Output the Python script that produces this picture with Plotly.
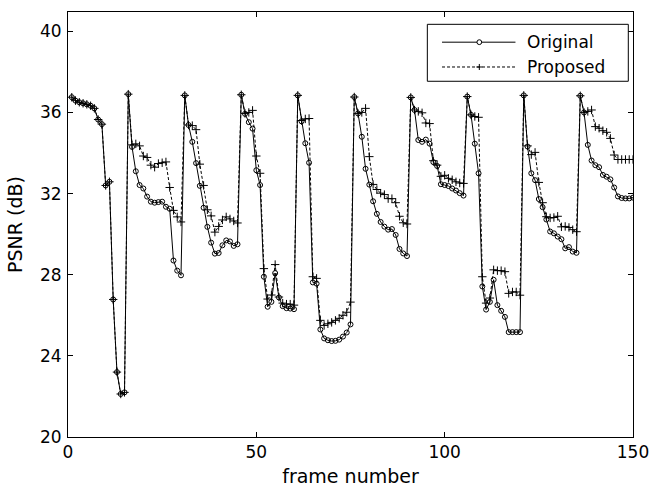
import plotly.graph_objects as go

frames = list(range(1, 151))

original = [
    36.75, 36.58, 36.5, 36.45, 36.4, 36.33, 36.2, 35.65, 35.42, 32.4, 32.58, 26.78, 23.2, 22.12, 22.2, 36.9,
    34.3, 33.1, 32.42, 32.25, 31.85, 31.6, 31.55, 31.58, 31.6, 31.35, 31.25, 28.7, 28.2, 27.97, 36.84,
    35.38, 34.55, 33.5, 32.38, 31.3, 30.36, 29.58, 29.04, 29.07, 29.45, 29.69, 29.64, 29.42, 29.5, 36.87,
    35.93, 35.52, 35.2, 33.15, 32.42, 27.9, 26.42, 26.66, 28.08, 26.88, 26.45, 26.35, 26.33, 26.3, 36.84,
    35.56, 34.48, 33.52, 27.62, 27.56, 25.3, 24.86, 24.77, 24.73, 24.74, 24.8, 24.95, 25.15, 25.55, 36.76,
    35.95, 34.8, 33.22, 32.44, 31.62, 31.0, 30.6, 30.37, 30.22, 30.25, 29.96, 29.27, 29.05, 28.92, 36.74,
    36.12, 34.64, 34.55, 34.66, 34.46, 33.55, 33.36, 32.46, 32.42, 32.37, 32.25, 32.15, 32.02, 31.9, 36.78,
    35.88, 34.46, 33.0, 27.42, 26.28, 26.66, 27.75, 26.5, 26.22, 25.92, 25.17, 25.17, 25.17, 25.17, 36.84,
    34.32, 33.0, 32.66, 31.73, 31.33, 30.72, 30.13, 30.04, 29.88, 29.75, 29.3, 29.36, 29.14, 29.08, 36.82,
    36.0, 34.4, 33.63, 33.4, 33.3, 32.92, 32.83, 32.7, 32.3, 31.86, 31.78, 31.76, 31.76, 31.8,
]

proposed = [
    36.75, 36.58, 36.5, 36.45, 36.4, 36.33, 36.2, 35.65, 35.42, 32.4, 32.58, 26.78, 23.2, 22.12, 22.2, 36.9,
    34.4, 34.45, 34.35, 33.85, 33.78, 33.4, 33.3, 33.48, 33.52, 33.56, 32.3, 31.17, 30.85, 30.6, 36.84,
    35.38, 35.35, 35.15, 33.45, 32.4, 31.2, 30.9, 30.1, 30.38, 30.7, 30.85, 30.75, 30.65, 30.55, 36.87,
    35.95, 36.0, 36.1, 33.85, 33.0, 28.3, 26.8, 27.0, 28.5, 26.9, 26.6, 26.55, 26.55, 26.5, 36.84,
    35.6, 35.68, 35.7, 27.9, 27.82, 25.75, 25.5, 25.58, 25.65, 25.75, 25.85, 26.0, 26.15, 26.65, 36.76,
    35.95, 36.0, 36.2, 33.82, 32.45, 32.2, 32.02, 31.95, 31.75, 31.75, 31.55, 30.88, 30.56, 30.5, 36.74,
    36.12, 36.05, 35.98, 35.48, 35.45, 33.62, 33.4, 32.85, 32.9, 32.75, 32.68, 32.58, 32.52, 32.5, 36.78,
    35.88, 35.8, 35.76, 27.9, 26.6, 26.85, 28.24, 28.2, 28.2, 28.15, 27.08, 27.15, 27.15, 26.99, 36.84,
    34.35, 33.92, 34.03, 32.55, 31.55, 30.86, 30.8, 30.82, 30.88, 30.36, 30.38, 30.33, 30.22, 30.12, 36.82,
    36.0, 36.05, 36.12, 35.3, 35.22, 35.1, 35.02, 34.72, 33.9, 33.68, 33.68, 33.68, 33.68, 33.68,
]

x_ticks = [0, 50, 100, 150]
y_ticks = [20, 24, 28, 32, 36, 40]
series_names = ["Original", "Proposed"]

FONT = "DejaVu Sans, Arial, Helvetica, sans-serif"

fig = go.Figure()
fig.add_trace(go.Scatter(
    x=frames, y=proposed, mode="lines+markers", name=series_names[1],
    line=dict(color="black", width=1, dash="3px,2px"),
    marker=dict(symbol="cross-thin", size=6, line=dict(color="black", width=1)),
    showlegend=False,
))
fig.add_trace(go.Scatter(
    x=frames, y=original, mode="lines+markers", name=series_names[0],
    line=dict(color="black", width=1),
    marker=dict(symbol="circle-open", size=5, color="black", line=dict(color="black", width=1)),
    showlegend=False,
))

axis_common = dict(
    showline=True, linecolor="black", linewidth=1, mirror="ticks",
    ticks="inside", ticklen=5, tickcolor="black", tickwidth=1,
    showgrid=False, zeroline=False, ticklabeloverflow="allow",
    tickfont=dict(family=FONT, size=17, color="black"),
)

fig.update_xaxes(range=[0, 150], tickvals=x_ticks, ticktext=[str(v) for v in x_ticks],
                 title=dict(text="frame number", font=dict(family=FONT, size=19, color="black"), standoff=8),
                 **axis_common)
fig.update_yaxes(range=[20, 40.95], tickvals=y_ticks, ticktext=[str(v) for v in y_ticks],
                 ticklabelstandoff=2,
                 title=dict(text="PSNR (dB)", font=dict(family=FONT, size=19, color="black"), standoff=12),
                 **axis_common)

# Manual MATLAB-style legend (paper coordinates)
shapes = [
    dict(type="rect", xref="paper", yref="paper", x0=0.636, x1=0.9917, y0=0.837, y1=0.971,
         line=dict(color="black", width=1), fillcolor="white", layer="above"),
    dict(type="line", xref="paper", yref="paper", x0=0.662, x1=0.792, y0=0.929, y1=0.929,
         line=dict(color="black", width=1), layer="above"),
    dict(type="line", xref="paper", yref="paper", x0=0.662, x1=0.792, y0=0.8706, y1=0.8706,
         line=dict(color="black", width=1, dash="3px,2px"), layer="above"),
    dict(type="circle", xref="paper", yref="paper", x0=0.7238, x1=0.7322, y0=0.9233, y1=0.9347,
         line=dict(color="black", width=1), fillcolor="white", layer="above"),
    dict(type="line", xref="paper", yref="paper", x0=0.7227, x1=0.7333, y0=0.8706, y1=0.8706,
         line=dict(color="black", width=1), layer="above"),
    dict(type="line", xref="paper", yref="paper", x0=0.728, x1=0.728, y0=0.8635, y1=0.8777,
         line=dict(color="black", width=1), layer="above"),
]
annotations = [
    dict(text=series_names[0], xref="paper", yref="paper", x=0.809, y=0.929, xanchor="left",
         yanchor="middle", showarrow=False, font=dict(family=FONT, size=17, color="black")),
    dict(text=series_names[1], xref="paper", yref="paper", x=0.809, y=0.8706, xanchor="left",
         yanchor="middle", showarrow=False, font=dict(family=FONT, size=17, color="black")),
]

fig.update_layout(
    width=649, height=493,
    margin=dict(l=68, r=16, t=12, b=56, autoexpand=False),
    paper_bgcolor="white", plot_bgcolor="white",
    shapes=shapes, annotations=annotations,
    font=dict(family=FONT, size=17, color="black"),
    showlegend=False,
)

fig.write_html(
    "out.html",
    config={"displayModeBar": False},
    post_script="document.body.style.margin='0';document.body.style.padding='0';",
)
